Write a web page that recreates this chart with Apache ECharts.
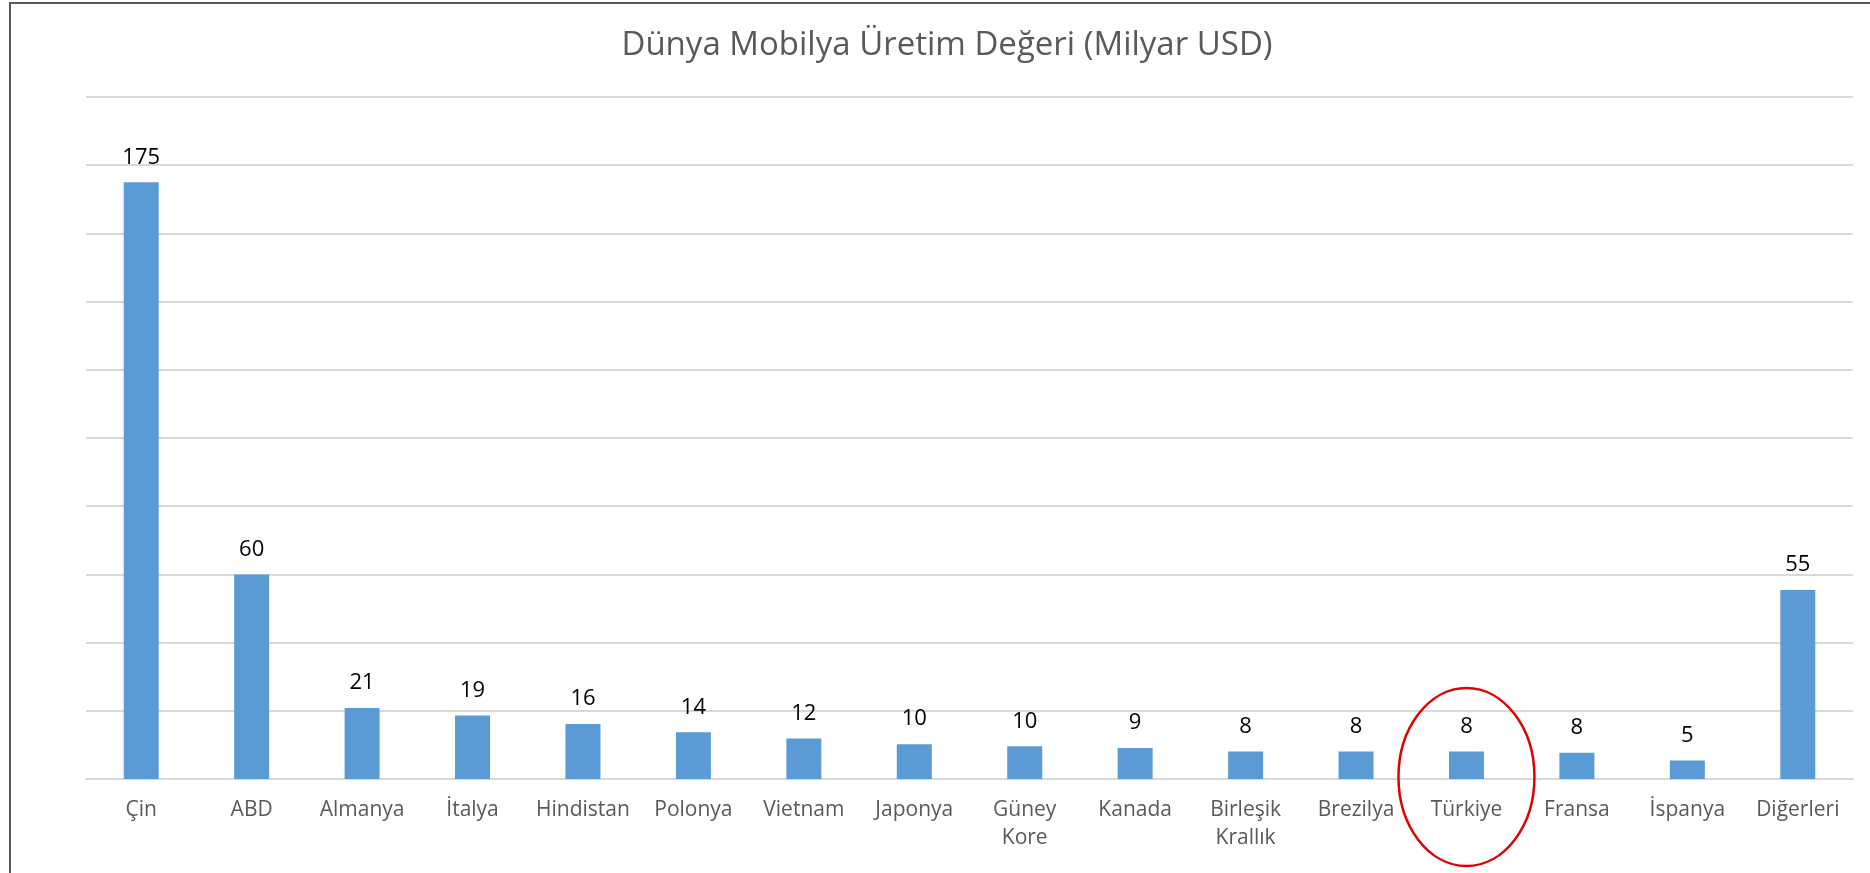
<!DOCTYPE html>
<html>
<head>
<meta charset="utf-8">
<title>Dünya Mobilya Üretim Değeri</title>
<script src="https://cdn.jsdelivr.net/npm/echarts@6/dist/echarts.min.js"></script>
<style>
  html, body {
    margin: 0;
    padding: 0;
    width: 1870px;
    height: 873px;
    background: #fff;
    overflow: hidden;
  }
  .frame {
    position: absolute;
    left: 9px;
    top: 2px;
    width: 1859px;
    height: 869px;
    border-left: 2px solid #595959;
    border-top: 2px solid #595959;
  }
  .mobilya-chart-container {
    position: absolute;
    left: 0;
    top: 0;
    width: 1870px;
    height: 873px;
  }
</style>
</head>
<body>
<div class="frame"></div>
<div class="mobilya-chart-container"></div>
<script>
// ülkeler
const countries = [
  'Çin', 'ABD', 'Almanya', 'İtalya', 'Hindistan', 'Polonya', 'Vietnam', 'Japonya',
  'Güney\nKore', 'Kanada', 'Birleşik\nKrallık', 'Brezilya', 'Türkiye', 'Fransa', 'İspanya', 'Diğerleri'
]
// üretim değeri (milyar USD), bar yüksekliklerinden okundu
const values = [175, 60, 20.8, 18.6, 16.1, 13.7, 11.9, 10.2, 9.6, 9.1, 8.1, 8.1, 8.1, 7.7, 5.4, 55.4]
const yTicks = [0, 20, 40, 60, 80, 100, 120, 140, 160, 180, 200]
const highlighted = 'Türkiye'

const chart = echarts.init(document.querySelector('.mobilya-chart-container'))
const font = '"Open Sans", "Noto Sans", sans-serif'

const options = {
  animation: false,
  title: {
    text: 'Dünya Mobilya Üretim Değeri (Milyar USD)',
    left: 942,
    top: 24,
    textAlign: 'center',
    textStyle: {
      color: '#595959',
      fontFamily: font,
      fontWeight: 'normal',
      fontSize: 33
    }
  },
  grid: {
    left: 86,
    right: 17,
    top: 97,
    bottom: 94
  },
  xAxis: {
    type: 'category',
    data: countries,
    axisTick: { show: false },
    axisLine: {
      lineStyle: { color: '#d9d9d9', width: 2 }
    },
    axisLabel: {
      color: '#595959',
      fontFamily: font,
      fontSize: 21,
      lineHeight: 28,
      margin: 17,
      interval: 0
    }
  },
  yAxis: {
    type: 'value',
    min: yTicks[0],
    max: yTicks[yTicks.length - 1],
    interval: yTicks[1] - yTicks[0],
    axisLabel: { show: false },
    axisLine: { show: false },
    axisTick: { show: false },
    splitLine: {
      lineStyle: { color: '#d9d9d9', width: 2 }
    }
  },
  series: [
    {
      type: 'bar',
      data: values,
      barWidth: 35,
      itemStyle: { color: '#5b9bd5' },
      label: {
        show: true,
        position: 'top',
        distance: 14,
        color: '#000',
        fontFamily: font,
        fontSize: 22,
        formatter: (p) => Math.round(p.value)
      }
    }
  ]
}
chart.setOption(options)

// Türkiye etrafındaki kırmızı elips
const cx = chart.convertToPixel({ xAxisIndex: 0 }, highlighted)
const cy = chart.convertToPixel({ yAxisIndex: 0 }, 0) - 2
chart.setOption({
  graphic: [
    {
      type: 'ellipse',
      shape: { cx: cx, cy: cy, rx: 68, ry: 89 },
      style: { fill: 'none', stroke: '#e00000', lineWidth: 2.5 },
      z: 100
    }
  ]
})
</script>
</body>
</html>
